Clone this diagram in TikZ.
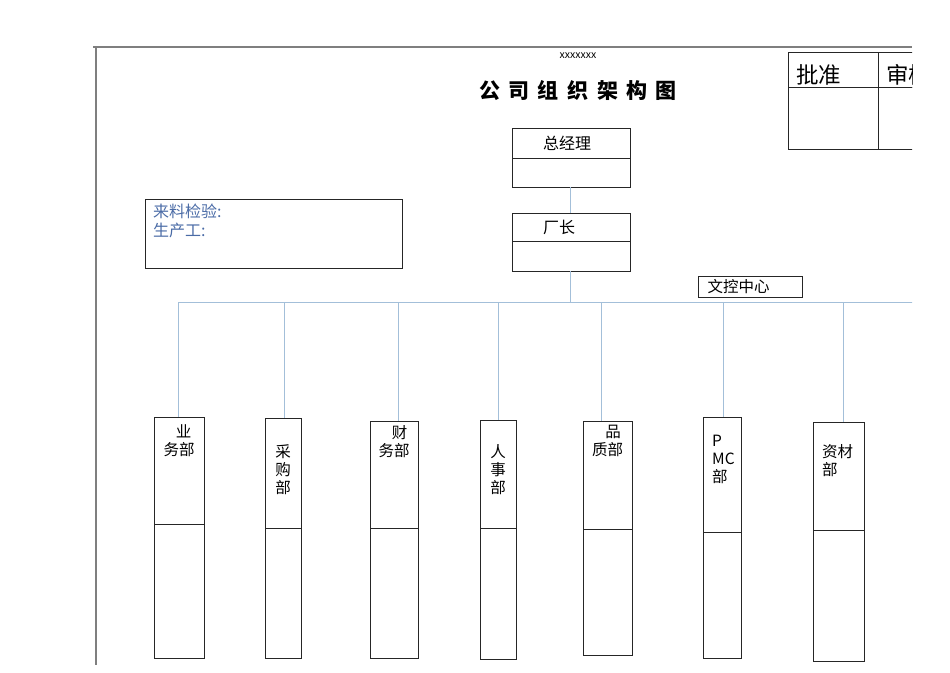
\documentclass[tikz,border=0pt]{standalone}
\usepackage{fontspec}
\setmainfont{Noto Sans CJK SC}
\usetikzlibrary{positioning}
\definecolor{linkblue}{HTML}{A3BFD9}
\definecolor{notetext}{HTML}{4A6BA6}
\definecolor{framegray}{HTML}{7F7F7F}
\definecolor{boxline}{HTML}{262626}

\begin{document}
\begin{tikzpicture}[x=1pt,y=-1pt,font=\fontsize{15.5}{18}\selectfont]

\tikzset{
box/.style={
    draw=boxline,
    line width=0.8pt,
    inner sep=0pt,
    outer sep=0pt
},
dept/.style={box,anchor=north},
dtext/.style={align=center,inner sep=0pt},
dleft/.style={align=left,inner sep=0pt},
link/.style={color=linkblue,line width=0.8pt}
}

\useasboundingbox (0,0) rectangle (950,672);
\clip (0,0) rectangle (912,672);

% page frame
\draw[framegray,line width=1.1pt] (93,47) -- (912,47);
\draw[framegray,line width=1.1pt] (96,47) -- (96,665);

% heading
\node[font=\fontsize{10.5}{10.5}\selectfont] (code) at (578,56) {xxxxxxx};
\node[font=\fontsize{21}{21}\selectfont\bfseries] (title) at (578,91)
  {公\hspace{8.5pt}司\hspace{8.5pt}组\hspace{8.5pt}织\hspace{8.5pt}架\hspace{8.5pt}构\hspace{8.5pt}图};

% sign-off table
\tikzset{sign/.style={box,font=\fontsize{22.5}{22.5}\selectfont,text width=74pt,inner xsep=8pt,align=left,text height=27pt,text depth=0pt}}
\node[sign,minimum height=35pt,anchor=north west] (pizhun) at (788,52) {批准};
\node[sign,minimum height=35pt,right=0pt of pizhun] (shenhe) {审核};
\node[box,minimum width=90pt,minimum height=62pt,below=0pt of pizhun] (pizhunb) {};
\node[box,minimum width=90pt,minimum height=62pt,below=0pt of shenhe] (shenheb) {};

% note
\node[box,minimum width=257pt,minimum height=69pt,anchor=north west] (note) at (145,199) {};
\node[dleft,color=notetext,font=\fontsize{16}{19}\selectfont,below right=5pt and 8pt of note.north west] (notetxt)
  {来料检验:\\生产工:};

% top management
\node[dept,font=\fontsize{16}{16}\selectfont,minimum width=118pt,minimum height=30pt] (zjl) at (571,128) {总经理\hspace*{8pt}};
\node[box,minimum width=118pt,minimum height=29pt,below=0pt of zjl] (zjlb) {};
\node[dept,font=\fontsize{16}{16}\selectfont,minimum width=118pt,minimum height=28pt] (cz) at (571,213) {厂长\hspace*{24pt}};
\node[box,minimum width=118pt,minimum height=30pt,below=0pt of cz] (czb) {};
\node[box,minimum width=104pt,minimum height=21pt] (wk) at (750,286.5) {文控中心\hspace*{23pt}};

% departments
\node[dept,minimum width=50pt,minimum height=107pt] (yewu) at (179,417) {};
\node[box,minimum width=50pt,minimum height=134pt,below=0pt of yewu] (yewub) {};
\node[dtext,below=7pt of yewu.north] (yewut) {\hspace{9pt}业\\务部};

\node[dept,minimum width=36pt,minimum height=110pt] (caigou) at (283,418) {};
\node[box,minimum width=36pt,minimum height=130pt,below=0pt of caigou] (caigoub) {};
\node[dtext,below=26pt of caigou.north] (caigout) {采\\购\\部};

\node[dept,minimum width=48pt,minimum height=107pt] (caiwu) at (394,421) {};
\node[box,minimum width=48pt,minimum height=130pt,below=0pt of caiwu] (caiwub) {};
\node[dtext,below=4pt of caiwu.north] (caiwut) {\hspace{11pt}财\\务部};

\node[dept,minimum width=36pt,minimum height=108pt] (renshi) at (498,420) {};
\node[box,minimum width=36pt,minimum height=131pt,below=0pt of renshi] (renshib) {};
\node[dtext,below=24pt of renshi.north] (renshit) {人\\事\\部};

\node[dept,minimum width=49pt,minimum height=108pt] (pinzhi) at (607.5,421) {};
\node[box,minimum width=49pt,minimum height=126pt,below=0pt of pinzhi] (pinzhib) {};
\node[dtext,below=4pt of pinzhi.north] (pinzhit) {\hspace{11pt}品\\质部};

\node[dept,minimum width=38pt,minimum height=115pt] (pmc) at (722,417) {};
\node[box,minimum width=38pt,minimum height=126pt,below=0pt of pmc] (pmcb) {};
\node[dleft,below right=18pt and 9pt of pmc.north west] (pmct) {P\\MC\\部};

\node[dept,minimum width=51pt,minimum height=108pt] (zicai) at (838.5,422) {};
\node[box,minimum width=51pt,minimum height=131pt,below=0pt of zicai] (zicaib) {};
\node[dleft,below right=22pt and 9pt of zicai.north west] (zicait) {资材\\部};

% connectors
\coordinate (bus) at (570,302);
\coordinate (buse) at (915,302);
\draw[link] (zjlb.south -| bus) -- (cz.north -| bus);
\draw[link] (czb.south -| bus) -- (bus);
\coordinate (byewu) at (178,302);
\draw[link] (byewu) -- (buse);
\foreach \d/\x in {yewu/178,caigou/284,caiwu/398,renshi/498,pinzhi/601,pmc/723,zicai/843}{
  \coordinate (b\d) at (\x,302);
  \draw[link] (b\d) -- (b\d |- \d.north);
}

\end{tikzpicture}
\end{document}
